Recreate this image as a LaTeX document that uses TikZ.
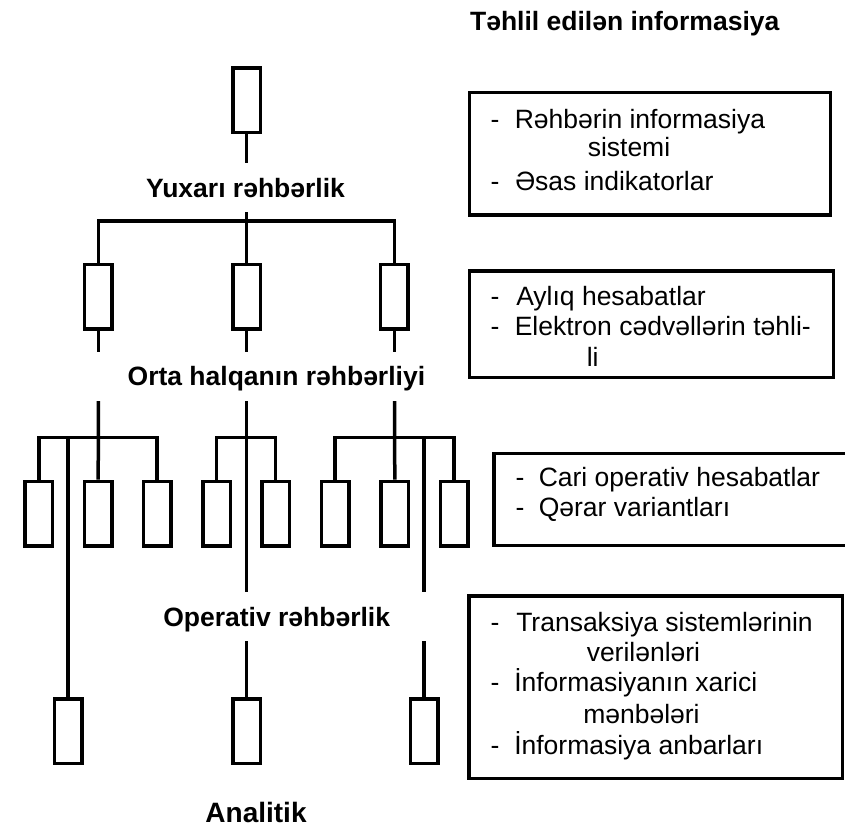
\documentclass[tikz,border=0pt]{standalone}
\usepackage{fontspec}
\setmainfont{Liberation Sans}
\begin{document}
\begin{tikzpicture}[x=1pt,y=-1pt,
  line width=3.5pt,
  unit/.style={draw, line width=3.5pt, minimum width=27.5pt, minimum height=64.5pt, inner sep=0pt},
  info/.style={draw, line width=3.5pt, inner sep=0pt},
  level/.style={font=\fontsize{26.5}{30}\selectfont\bfseries, inner sep=0pt, anchor=base},
  item/.style={font=\fontsize{26.5}{30}\selectfont, inner sep=0pt, anchor=base west},
]
\useasboundingbox (0,0) rectangle (845,828);

% ---- management hierarchy: unit boxes ----
\node[unit] (top) at (246.5,100) {};

\node[unit] (m1) at (98.4,296.5) {};
\node[unit] (m2) at (246.5,296.5) {};
\node[unit] (m3) at (394.3,296.5) {};

\foreach \n/\x in {1/38.8,2/98.2,3/157.2,4/216.7,5/275.5,6/335.2,7/394.8,8/454.2}
  \node[unit] (o\n) at (\x,513.5) {};

\node[unit] (a1) at (68.2,731) {};
\node[unit] (a2) at (246.5,731) {};
\node[unit] (a3) at (424.2,731) {};

% ---- level labels ----
\node[level] (lab1) at (245.5,197) {Yuxarı rəhbərlik};
\node[level] (lab2) at (276.4,385) {Orta halqanın rəhbərliyi};
\node[level] (lab3) at (276.7,626) {Operativ rəhbərlik};
\node[level, font=\fontsize{28}{32}\selectfont\bfseries] (lab4) at (256,822.5) {Analitik};
\node[level] (head) at (624.7,30) {Təhlil edilən informasiya};

% ---- connectors, top level ----
\coordinate (topend) at (246.5,163);
\draw (top.south) -- (topend);
\coordinate (midstart) at (246.5,212);
\coordinate (midbar) at (246.5,221);
\draw (midstart) -- (m2.north);
\draw (m1.north) |- (midbar) -| (m3.north);

% stubs below the middle boxes
\coordinate (m1end) at (98.4,352);
\coordinate (m2end) at (246.5,352);
\coordinate (m3end) at (394.3,352);
\draw (m1.south) -- (m1end);
\draw (m2.south) -- (m2end);
\draw (m3.south) -- (m3end);

% ---- operational groups ----
\coordinate (g1top) at (98.4,401);
\coordinate (g1bar) at (98.4,437.3);
\draw (g1top) -- (o2.north);
\draw (o1.north) |- (g1bar) -| (o3.north);
\draw (a1.north |- g1bar) -- (a1.north);

\coordinate (g2top) at (246.5,401);
\coordinate (g2bar) at (246.5,437.3);
\coordinate (g2end) at (246.5,591.5);
\draw (g2top) -- (g2end);
\draw (o4.north) |- (g2bar) -| (o5.north);

\coordinate (g3top) at (394.5,401);
\coordinate (g3bar) at (394.5,437.3);
\coordinate (g3end) at (424.2,591.5);
\draw (g3top) -- (o7.north);
\draw (o6.north) |- (g3bar) -| (o8.north);
\draw (a3.north |- g3bar) -- (g3end);

% ---- analytic level ----
\coordinate (a2start) at (246.5,641);
\coordinate (a3start) at (424.2,641);
\draw (a2start) -- (a2.north);
\draw (a3start) -- (a3.north);

% ---- information boxes ----
\node[info, minimum width=361pt, minimum height=122.5pt] (i1) at (650,153.7) {};
\node[info, minimum width=363.7pt, minimum height=106.5pt] (i2) at (651.4,324.3) {};
\draw (845,453.5) -| (494,545.5) -- (845,545.5);
\node[info, minimum width=373.5pt, minimum height=182.3pt] (i4) at (655.75,687.15) {};

% box 1
\node[item] (d11) at (488.8,128.3) {-};
\node[item] (t11) at (513,128.3) {Rəhbərin informasiya};
\node[item] (t12) at (586,156.7) {sistemi};
\node[item] (d12) at (488.8,190) {-};
\node[item] (t13) at (513.5,190) {Əsas indikatorlar};

% box 2
\node[item] (d21) at (488.8,305) {-};
\node[item] (t21) at (514.5,305) {Aylıq hesabatlar};
\node[item] (d22) at (488.8,335) {-};
\node[item] (t22) at (513,335) {Elektron cədvəllərin təhli-};
\node[item] (t23) at (585,366) {li};

% box 3
\node[item] (d31) at (513.8,486.7) {-};
\node[item] (t31) at (537,486.7) {Cari operativ hesabatlar};
\node[item] (d32) at (513.8,516.7) {-};
\node[item] (t32) at (537,516.7) {Qərar variantları};

% box 4
\node[item] (d41) at (488.8,631.7) {-};
\node[item] (t41) at (514.5,631.7) {Transaksiya sistemlərinin};
\node[item] (t42) at (585,661.7) {verilənləri};
\node[item] (d42) at (488.8,691.7) {-};
\node[item] (t43) at (512.5,691.7) {İnformasiyanın xarici};
\node[item] (t44) at (581.5,723.3) {mənbələri};
\node[item] (d43) at (488.8,754) {-};
\node[item] (t45) at (512.5,754) {İnformasiya anbarları};
\end{tikzpicture}
\end{document}
